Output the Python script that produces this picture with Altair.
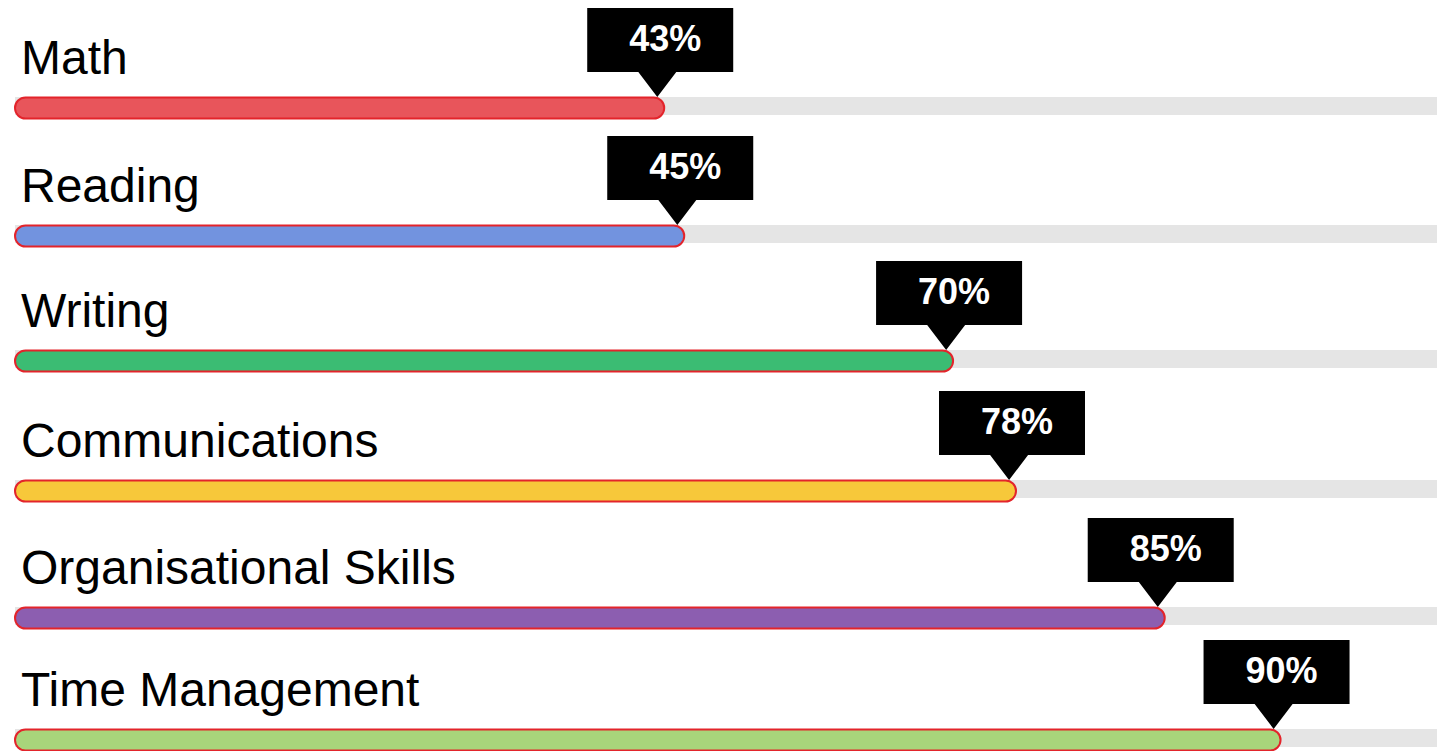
import altair as alt
import pandas as pd

skills = ["Math", "Reading", "Writing", "Communications", "Organisational Skills", "Time Management"]
labels = [43, 45, 70, 78, 85, 90]               # percentage printed in the callouts
fill = [45.4, 46.8, 65.6, 70.0, 80.4, 88.5]     # drawn length of each bar (share of the track)
colors = ["#E8555B", "#7293DF", "#3BBC73", "#F7C83A", "#8C5EB0", "#A8D57B"]

df = pd.DataFrame({
    "skill": skills,
    "row": list(range(len(skills))),
    "fill": fill,
    "label": [f"{v}%" for v in labels],
})

xs = alt.Scale(domain=[0, 100], range=[15, 1445], nice=False, zero=False, padding=0)
ys = alt.Scale(domain=[0, 1, 2, 3, 4, 5], range=[108, 236, 361, 491, 618, 740],
               nice=False, zero=False, padding=0)

base = alt.Chart(df).transform_calculate(start="0", end="100")

Y = alt.Y("row:Q", scale=ys, axis=None)

track = base.mark_bar(color="#E5E5E5", size=18, yOffset=-2).encode(
    x=alt.X("start:Q", scale=xs, axis=None),
    x2="end:Q",
    y=Y,
)

bars = base.mark_bar(size=21, cornerRadius=10.5, stroke="#E3242B", strokeWidth=2).encode(
    x=alt.X("start:Q", scale=xs, axis=None),
    x2="fill:Q",
    y=Y,
    color=alt.Color("skill:N", scale=alt.Scale(domain=skills, range=colors), legend=None),
)

callout_path = "M -1 -0.438 L 1 -0.438 L 1 0.438 L 0.22 0.438 L -0.04 0.781 L -0.3 0.438 L -1 0.438 Z"
callouts = base.mark_point(
    shape=callout_path, filled=True, color="black", opacity=1, size=21316,
    strokeWidth=0, yOffset=-68, xOffset=-4,
).encode(
    x=alt.X("fill:Q", scale=xs, axis=None),
    y=Y,
)

pct = base.mark_text(
    color="white", font="Liberation Sans", fontSize=36, fontWeight="bold",
    baseline="middle", align="center", dy=-68, dx=1,
).encode(
    x=alt.X("fill:Q", scale=xs, axis=None),
    y=Y,
    text="label:N",
)

names = base.mark_text(
    color="black", font="Liberation Sans", fontSize=48,
    baseline="alphabetic", align="left", dy=-34,
).encode(
    x=alt.value(21),
    y=Y,
    text="skill:N",
)

chart = alt.layer(track, bars, callouts, pct, names).properties(
    width=1437, height=751,
    autosize=alt.AutoSizeParams(type="none"),
    padding=0,
    background="white",
).configure_view(stroke=None)

chart.save("out.html", embed_options={"renderer": "svg", "actions": False})
